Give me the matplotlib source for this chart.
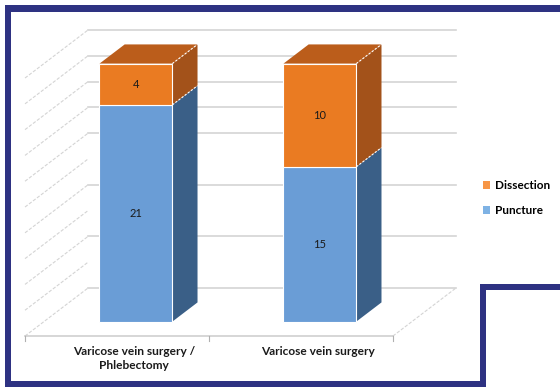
import matplotlib.pyplot as plt
from matplotlib.patches import Polygon, Rectangle, Patch

plt.rcParams["font.family"] = ["Lato", "DejaVu Sans"]

categories = ["Varicose vein surgery /\nPhlebectomy", "Varicose vein surgery"]
puncture = [21, 15]
dissection = [4, 10]
series_names = ["Puncture", "Dissection"]
back_grid = [0, 5, 10, 15, 17.5, 20, 22.5, 25]
side_grid = [0, 2.5, 5, 7.5, 10, 12.5, 15, 17.5, 20, 22.5, 25]

NAVY = "#2e3282"
FRONT = {"Puncture": "#6a9dd6", "Dissection": "#ea7b22"}
SIDE = {"Puncture": "#3a5f87", "Dissection": "#a3521a"}
TOP = {"Puncture": "#4f7fb3", "Dissection": "#bb5d1b"}
LEGEND = {"Puncture": "#7eb2e4", "Dissection": "#f79646"}
GRID = "#d4d4d4"

# oblique "3d" projection: depth d in [0, 1] shifts x and y
DX = 63 / 184
DY = 48 / 10.32
HW = 0.198
D0, D1 = 0.3, 0.7


def proj(x, y, d):
    return (x + d * DX, y + d * DY)


fig = plt.figure(figsize=(5.6, 3.87), dpi=100)
ax = fig.add_axes([0, 0, 1, 1])
ax.set_xlim(-0.636, 2.408)
ax.set_ylim(-4.94, 32.56)
ax.axis("off")

x_lo, x_hi = -0.5, len(categories) - 0.5

# walls and floor
for v in back_grid:
    (xa, ya), (xb, yb) = proj(x_lo, v, 1), proj(x_hi, v, 1)
    ax.plot([xa, xb], [ya, yb], color=GRID, lw=1.2, zorder=1)
for v in side_grid:
    (xa, ya), (xb, yb) = proj(x_lo, v, 0), proj(x_lo, v, 1)
    ax.plot([xa, xb], [ya, yb], color=GRID, lw=0.8, ls=(0, (3, 1.5)), zorder=1)
(xa, ya), (xb, yb) = proj(x_hi, 0, 0), proj(x_hi, 0, 1)
ax.plot([xa, xb], [ya, yb], color=GRID, lw=0.8, ls=(0, (3, 1.5)), zorder=1)
ax.plot([x_lo, x_hi], [0, 0], color="#cfcfcf", lw=1.2, zorder=1)
for t in [x_lo, 0.5, x_hi]:
    ax.plot([t, t], [0, -0.45], color="#b0b0b0", lw=0.8, zorder=1)

# bars
for i in range(len(categories)):
    stacks = [("Puncture", 0, puncture[i]),
              ("Dissection", puncture[i], puncture[i] + dissection[i])]
    for k, (name, y0, y1) in enumerate(stacks):
        side = [proj(i + HW, y0, D0), proj(i + HW, y0, D1),
                proj(i + HW, y1, D1), proj(i + HW, y1, D0)]
        ax.add_patch(Polygon(side, closed=True, facecolor=SIDE[name],
                             edgecolor="none", zorder=3))
        if k == len(stacks) - 1:
            top = [proj(i - HW, y1, D0), proj(i + HW, y1, D0),
                   proj(i + HW, y1, D1), proj(i - HW, y1, D1)]
            ax.add_patch(Polygon(top, closed=True, facecolor=TOP[name],
                                 edgecolor="none", zorder=3))
        front = [proj(i - HW, y0, D0), proj(i + HW, y0, D0),
                 proj(i + HW, y1, D0), proj(i - HW, y1, D0)]
        ax.add_patch(Polygon(front, closed=True, facecolor=FRONT[name],
                             edgecolor="white", lw=0.8, zorder=4))
        cx, cy = proj(i, (y0 + y1) / 2, D0)
        ax.text(cx, cy, str(y1 - y0), ha="center", va="center",
                fontsize=8, color="#1a1a1a", zorder=5)
    # white dashed edge on the side faces
    xb, yb = proj(i + HW, stacks[-1][2], D0)
    xc, yc = proj(i + HW, stacks[-1][2], D1)
    ax.plot([xb, xc], [yb, yc], color="white", lw=0.8, ls=(0, (2, 1.5)), zorder=5)
    for name, y0, y1 in stacks[1:]:
        xd, yd = proj(i + HW, y0, D1)
        xe, ye = proj(i + HW, y0, D0)
        ax.plot([xe, xd], [ye, yd], color="white", lw=0.8, ls=(0, (2, 1.5)), zorder=5)

# category labels
for i, label in enumerate(categories):
    lx, _ = proj(i, 0, D0)
    ax.text(lx - 0.01, -1.0, label, ha="center", va="top", fontsize=8.6,
            fontweight="bold", color="#1a1a1a", linespacing=1.35)

handles = [Patch(facecolor=LEGEND[n], edgecolor="none", label=n)
           for n in ["Dissection", "Puncture"]]
ax.legend(handles=handles, loc="upper left", bbox_to_anchor=(0.862, 0.535),
          frameon=False, handlelength=0.6, handleheight=0.6, handletextpad=0.4,
          labelspacing=1.2, borderpad=0, borderaxespad=0,
          prop={"weight": "bold", "size": 8.5})


# navy frame around the figure
def frame(x, y, w, h):
    fig.add_artist(Rectangle((x / 560, 1 - (y + h) / 387), w / 560, h / 387,
                             transform=fig.transFigure, facecolor=NAVY,
                             edgecolor="none", zorder=10))


frame(5, 5, 555, 6)
frame(11, 11, 549, 1)
frame(5, 5, 6, 382)
frame(5, 381, 481, 6)
frame(480, 284, 6, 103)
frame(480, 284, 80, 6)

fig.savefig("out.png", dpi=100)
